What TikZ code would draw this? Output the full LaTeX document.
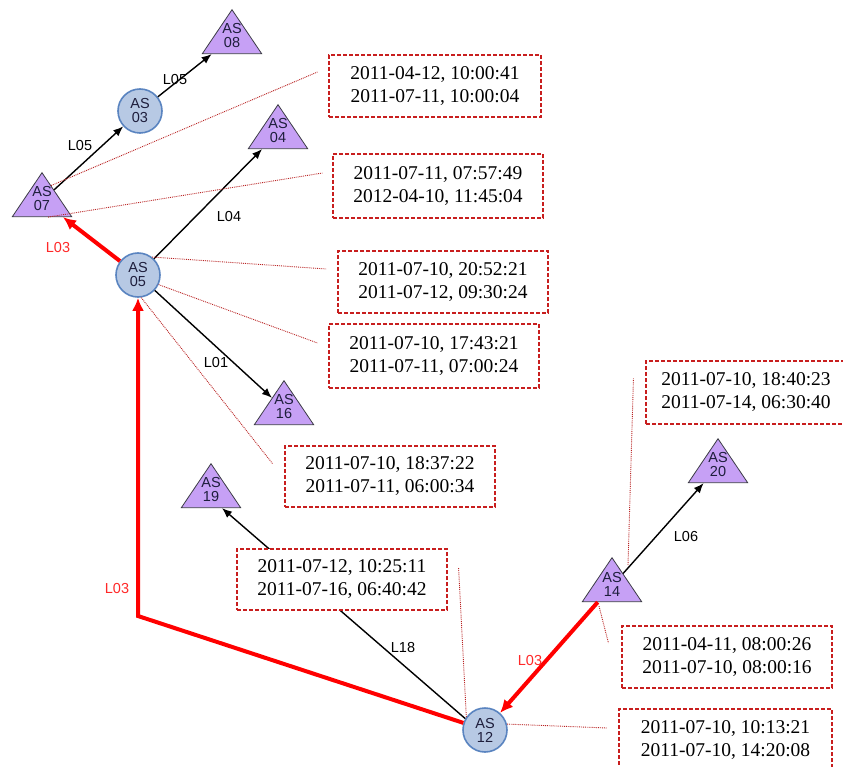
\documentclass[tikz,border=0pt]{standalone}
\usepackage{fontspec}
\setmainfont{Liberation Serif}
\setsansfont{Liberation Sans}
\usetikzlibrary{shapes.geometric,arrows.meta,calc}
\definecolor{trifill}{RGB}{198,160,245}
\definecolor{triedge}{RGB}{60,60,70}
\definecolor{circfill}{RGB}{183,201,228}
\definecolor{circedge}{RGB}{90,132,192}
\definecolor{astext}{RGB}{30,30,60}
\definecolor{boxred}{RGB}{200,30,30}
\definecolor{leadred}{RGB}{185,35,35}
\definecolor{labelred}{RGB}{255,40,40}
\begin{document}
\begin{tikzpicture}[x=1pt,y=-1pt,
  astri/.style={isosceles triangle, isosceles triangle apex angle=68,
    shape border rotate=90, minimum width=44pt, minimum height=44pt,
    inner sep=0pt, draw=triedge, line width=0.8pt, fill=trifill, anchor=apex},
  ascirc/.style={circle, minimum size=44pt, inner sep=0pt, draw=circedge,
    line width=1.6pt, fill=circfill, align=center, text=astext,
    font=\sffamily\fontsize{14.5}{14}\selectfont},
  astxt/.style={inner sep=0pt, align=center, text=astext,
    font=\sffamily\fontsize{14.5}{14}\selectfont},
  datebox/.style={draw=boxred, dash pattern=on 4pt off 2pt, line width=1.1pt,
    fill=white, minimum width=210pt, minimum height=62pt, align=center,
    inner sep=0pt, font=\rmfamily\fontsize{19.5}{23}\selectfont},
  lbl/.style={inner sep=0pt, font=\sffamily\fontsize{14.5}{16}\selectfont},
  rlbl/.style={lbl, text=labelred},
  link/.style={line width=1.4pt, -{Latex[length=10pt,width=8pt]}},
  redlink/.style={line width=4pt, draw=red, -{Latex[length=13pt,width=12pt]}},
  leader/.style={densely dotted, line width=0.9pt, draw=leadred}]
\useasboundingbox (0,0) rectangle (843,767);

% AS nodes
\node[astri] (a07) at (42,172) {};
\node[astri] (a08) at (232,9) {};
\node[astri] (a04) at (278,104) {};
\node[astri] (a16) at (284,380) {};
\node[astri] (a19) at (211,463) {};
\node[astri] (a14) at (612,557) {};
\node[astri] (a20) at (718,438) {};
\node[ascirc] (a03) at (140,111) {AS\\03};
\node[ascirc] (a05) at (138,275) {AS\\05};
\node[ascirc] (a12) at (485,730) {AS\\12};
\node[astxt] (t07) at ($(a07.apex)+(0,27)$) {AS\\07};
\node[astxt] (t08) at ($(a08.apex)+(0,27)$) {AS\\08};
\node[astxt] (t04) at ($(a04.apex)+(0,27)$) {AS\\04};
\node[astxt] (t16) at ($(a16.apex)+(0,27)$) {AS\\16};
\node[astxt] (t19) at ($(a19.apex)+(0,27)$) {AS\\19};
\node[astxt] (t14) at ($(a14.apex)+(0,27)$) {AS\\14};
\node[astxt] (t20) at ($(a20.apex)+(0,27)$) {AS\\20};

% links
\coordinate (corner) at (138,616);
\coordinate (a19in) at ($(a19.lower side)+(11,0)$);
\draw[link] (a07) -- (a03);
\draw[link] (a03) -- (a08);
\draw[link] (a05) -- (a04);
\draw[link] (a05) -- (a16);
\draw[link] (a14) -- (a20);
\draw[link] (a12.150) -- (a19in);
\draw[redlink] (a05) -- (a07);
\draw[redlink] (a12) -- (corner) -- (a05);
\draw[redlink] (a14) -- (a12);

% link labels
\node[lbl] (l1) at (80,146) {L05};
\node[lbl] (l2) at (175,80) {L05};
\node[rlbl] (l3) at (58,248) {L03};
\node[lbl] (l4) at (229,217) {L04};
\node[lbl] (l5) at (216,363) {L01};
\node[rlbl] (l6) at (117,589) {L03};
\node[lbl] (l7) at (403,648) {L18};
\node[rlbl] (l8) at (530,661) {L03};
\node[lbl] (l9) at (686,537) {L06};

% date boxes
\node[datebox, minimum width=212pt] (b1) at (435,86) {2011-04-12, 10:00:41\\2011-07-11, 10:00:04};
\node[datebox, minimum height=64pt] (b2) at (438,186) {2011-07-11, 07:57:49\\2012-04-10, 11:45:04};
\node[datebox] (b3) at (443,282) {2011-07-10, 20:52:21\\2011-07-12, 09:30:24};
\node[datebox, minimum height=64pt] (b4) at (434,356) {2011-07-10, 17:43:21\\2011-07-11, 07:00:24};
\node[datebox, minimum height=61pt] (b5) at (390,476.5) {2011-07-10, 18:37:22\\2011-07-11, 06:00:34};
\node[datebox, minimum height=61pt] (b6) at (342,579.5) {2011-07-12, 10:25:11\\2011-07-16, 06:40:42};
\node[datebox, minimum width=200pt, minimum height=63pt] (b7) at (746,392.5) {2011-07-10, 18:40:23\\2011-07-14, 06:30:40};
\node[datebox] (b8) at (727,657) {2011-04-11, 08:00:26\\2011-07-10, 08:00:16};
\node[datebox, minimum width=213pt] (b9) at (725.5,740) {2011-07-10, 10:13:21\\2011-07-10, 14:20:08};

% leaders
\coordinate (s1) at ($(a07.apex)!0.3!(a07.right corner)$);
\coordinate (s2) at ($(a07.left corner)!0.6!(a07.right corner)$);
\coordinate (s7) at ($(a14.apex)+(16,8)$);
\coordinate (s8) at ($(a14.lower side)+(-13,4)$);
\coordinate (e1) at ($(b1.west)+(-11,-14)$);
\coordinate (e2) at ($(b2.west)+(-10,-13)$);
\coordinate (e3) at ($(b3.west)+(-11,-13)$);
\coordinate (e4) at ($(b4.west)+(-11,-13)$);
\coordinate (e5) at ($(b5.west)+(-12,-13)$);
\coordinate (e6) at ($(b6.east)+(11,-12)$);
\coordinate (e7) at ($(b7.west)+(-12,-14)$);
\coordinate (e8) at ($(b8.west)+(-13,-14)$);
\coordinate (e9) at ($(b9.west)+(-11,-12)$);
\draw[leader] (s1) -- (e1);
\draw[leader] (s2) -- (e2);
\draw[leader] (a05.52) -- (e3);
\draw[leader] (a05.-25) -- (e4);
\draw[leader] (a05.-82) -- (e5);
\draw[leader] (a12.145) -- (e6);
\draw[leader] (s7) -- (e7);
\draw[leader] (s8) -- (e8);
\draw[leader] (a12.15) -- (e9);
\end{tikzpicture}
\end{document}
